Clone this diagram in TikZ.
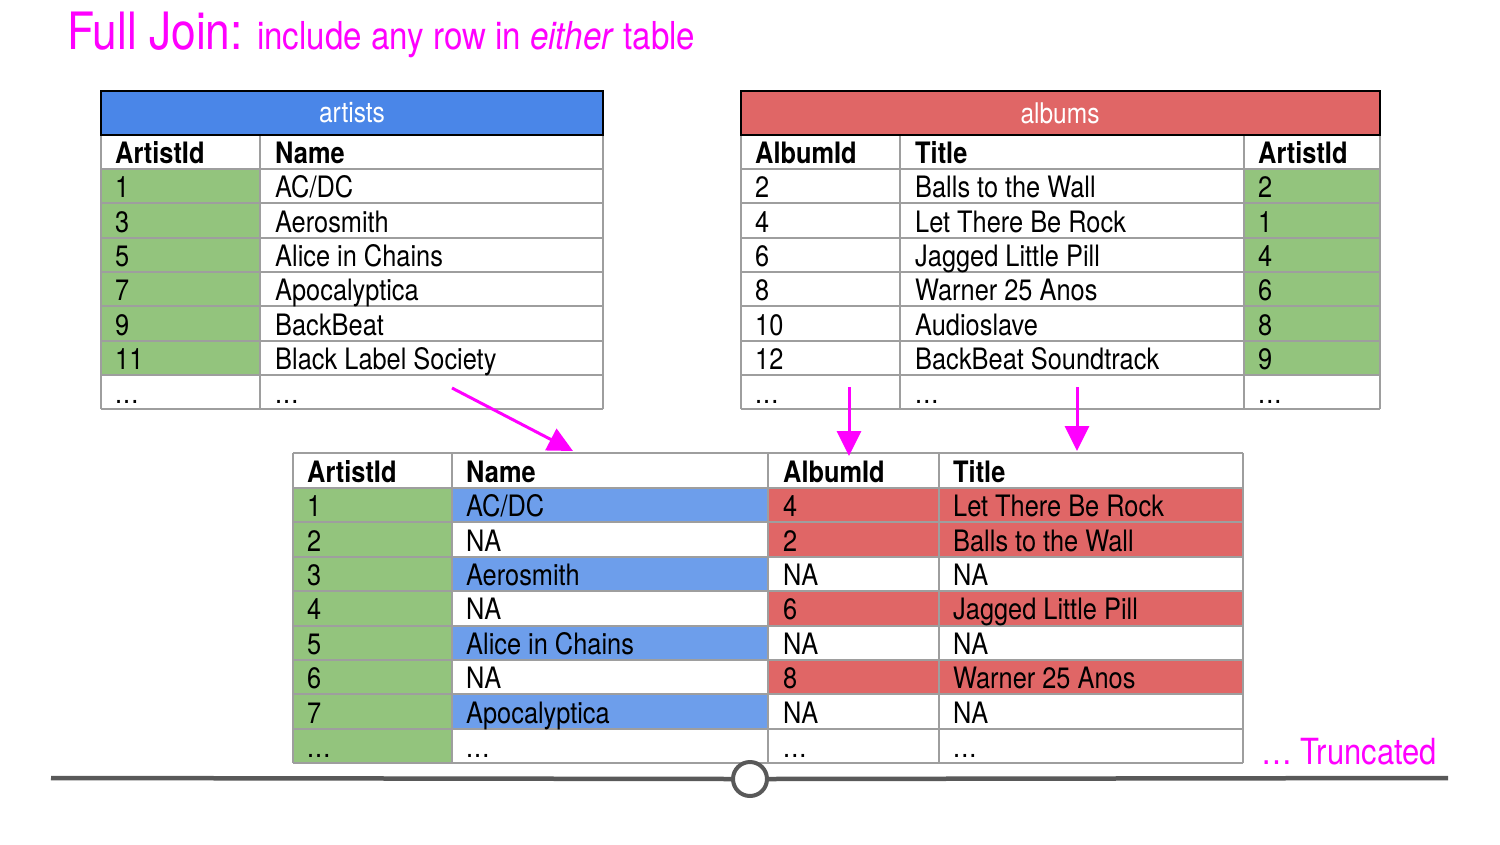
\documentclass[tikz,border=0pt]{standalone}
\usepackage{fontspec}
\setmainfont{TeX Gyre Heros}[FakeStretch=0.86]
\usetikzlibrary{arrows.meta}
\definecolor{hblue}{HTML}{4A86E8}
\definecolor{cblue}{HTML}{6D9EEB}
\definecolor{hred}{HTML}{E06666}
\definecolor{cgreen}{HTML}{93C47D}
\definecolor{gridc}{HTML}{9E9E9E}
\definecolor{mag}{HTML}{FF00FF}
\definecolor{axisc}{HTML}{595959}
\newcommand{\bodyfont}{\fontsize{29.5}{32}\selectfont}
\newcommand{\tdots}{.\kern1pt.\kern1pt.}
\begin{document}
\begin{tikzpicture}[x=1pt,y=-1pt,
  cell/.style={anchor=base west,inner sep=0pt,font=\bodyfont},
  hcell/.style={cell,font=\bodyfont\bfseries},
  gridline/.style={draw=gridc,line width=2pt},
  hdr/.style={draw=black,line width=2pt},
  hdrtext/.style={inner sep=0pt,text=white,font=\fontsize{28.5}{30}\selectfont},
  joinarrow/.style={draw=mag,line width=3pt,-{Triangle[length=25pt,width=24pt]}},
  axisline/.style={draw=axisc,line width=4.5pt}]
\useasboundingbox (0,0) rectangle (1500,844);
\fill[white] (0,0) rectangle (1500,844);
% ---------- title
\node[anchor=base west,inner sep=0pt,text=mag,font=\fontsize{51.5}{52}\selectfont] (title) at (67,49) {Full Join:};
\node[anchor=base west,inner sep=0pt,text=mag,font=\fontsize{38.5}{40}\selectfont] (subtitle) at (257,49) {include any row in \textit{either} table};
% ---------- artists table
\fill[cgreen] (101,169) rectangle (260,375);
\foreach \y in {169,203,238,272,306,341,375,409} \draw[gridline] (101,\y) -- (603,\y);
\foreach \x in {101,260,603} \draw[gridline] (\x,135) -- (\x,409);
\draw[hdr,fill=hblue] (101,91) rectangle (603,135);
\node[hdrtext] (arthdr) at (352,113) {artists};
\node[hcell] (art-h-1) at (115,163) {ArtistId};
\node[hcell] (art-h-2) at (275,163) {Name};
\foreach \n/\y/\a/\b in {1/197/1/{AC/DC},2/232/3/Aerosmith,3/266/5/Alice in Chains,4/300/7/Apocalyptica,5/335/9/BackBeat,6/369/11/Black Label Society,7/403/\tdots/\tdots}{
  \node[cell] (art-\n-1) at (115,\y) {\a};
  \node[cell] (art-\n-2) at (275,\y) {\b};
}
% ---------- albums table
\fill[cgreen] (1244,169) rectangle (1380,375);
\foreach \y in {169,203,238,272,306,341,375,409} \draw[gridline] (741,\y) -- (1380,\y);
\foreach \x in {741,900,1244,1380} \draw[gridline] (\x,135) -- (\x,409);
\draw[hdr,fill=hred] (741,91) rectangle (1380,135);
\node[hdrtext] (albhdr) at (1060,113) {albums};
\node[hcell] (alb-h-1) at (755,163) {AlbumId};
\node[hcell] (alb-h-2) at (915,163) {Title};
\node[hcell] (alb-h-3) at (1258,163) {ArtistId};
\foreach \n/\y/\a/\b/\c in {1/197/2/Balls to the Wall/2,2/232/4/Let There Be Rock/1,3/266/6/Jagged Little Pill/4,4/300/8/Warner 25 Anos/6,5/335/10/Audioslave/8,6/369/12/BackBeat Soundtrack/9,7/403/\tdots/\tdots/\tdots}{
  \node[cell] (alb-\n-1) at (755,\y) {\a};
  \node[cell] (alb-\n-2) at (915,\y) {\b};
  \node[cell] (alb-\n-3) at (1258,\y) {\c};
}
% ---------- result table
\fill[cgreen] (293,488) rectangle (452,763);
\foreach \t/\b in {488/522,557/591,626/660,694/729} \fill[cblue] (452,\t) rectangle (768,\b);
\foreach \t/\b in {488/522,522/557,591/626,660/694} \fill[hred] (768,\t) rectangle (1243,\b);
\foreach \y in {453,488,522,557,591,626,660,694,729,763} \draw[gridline] (293,\y) -- (1243,\y);
\foreach \x in {293,452,768,939,1243} \draw[gridline] (\x,453) -- (\x,763);
\node[hcell] (res-h-1) at (307,482) {ArtistId};
\node[hcell] (res-h-2) at (466,482) {Name};
\node[hcell] (res-h-3) at (783,482) {AlbumId};
\node[hcell] (res-h-4) at (953,482) {Title};
\foreach \n/\y/\a/\b/\c/\d in {1/516/1/{AC/DC}/4/Let There Be Rock,2/551/2/NA/2/Balls to the Wall,3/585/3/Aerosmith/NA/NA,4/619/4/NA/6/Jagged Little Pill,5/654/5/Alice in Chains/NA/NA,6/688/6/NA/8/Warner 25 Anos,7/723/7/Apocalyptica/NA/NA,8/757/\tdots/\tdots/\tdots/\tdots}{
  \node[cell] (res-\n-1) at (307,\y) {\a};
  \node[cell] (res-\n-2) at (466,\y) {\b};
  \node[cell] (res-\n-3) at (783,\y) {\c};
  \node[cell] (res-\n-4) at (953,\y) {\d};
}
% ---------- arrows
\coordinate (a1s) at (452,388); \coordinate (a1e) at (573,451);
\coordinate (a2s) at (849,387); \coordinate (a2e) at (849,456);
\coordinate (a3s) at (1077,387); \coordinate (a3e) at (1077,451);
\draw[joinarrow] (a1s) -- (a1e);
\draw[joinarrow] (a2s) -- (a2e);
\draw[joinarrow] (a3s) -- (a3e);
% ---------- bottom axis
\coordinate (axl) at (51,778); \coordinate (axr) at (1448,778);
\node[circle,draw=axisc,line width=4pt,fill=white,minimum size=34pt,inner sep=0pt] (knob) at (750,779) {};
\draw[axisline] (axl) -- (knob.west);
\draw[axisline] (knob.east) -- (axr);
\node[anchor=base east,inner sep=0pt,text=mag,font=\fontsize{36}{40}\selectfont] (trunc) at (1437,764) {… Truncated};
\end{tikzpicture}
\end{document}
